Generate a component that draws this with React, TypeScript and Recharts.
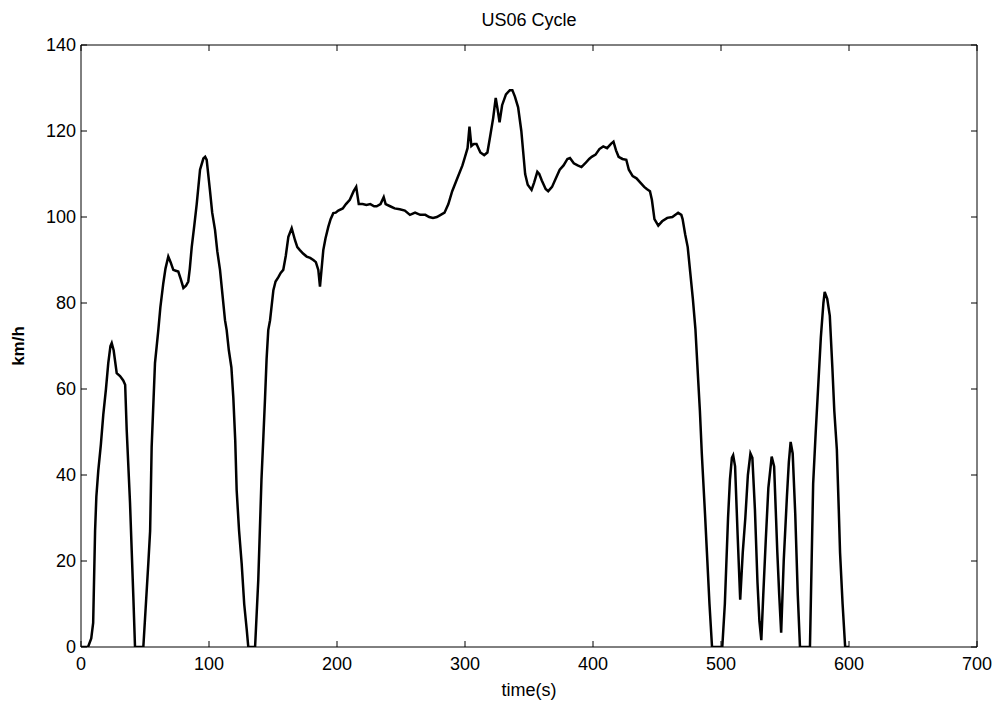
import { LineChart, Line, XAxis, YAxis, Label, ReferenceLine } from "recharts";

// US06 drive cycle
const TIME = [
  0, 5.5, 8, 9.5, 11, 12, 13.5, 15.5, 17.4, 19.5, 21.3, 23, 24, 25.5, 27.9, 30.5, 33, 34.5, 35.7, 38.3, 40.9,
  42.2, 48.7, 50.5, 52.6, 54, 55.2, 57.8, 60.4, 62, 64.3, 66, 68.2, 70, 72.1, 74, 76, 78, 80, 82, 83.8, 85,
  86.5, 88.5, 90.4, 93, 95.6, 97, 98.2, 100.8, 102.5, 104.7, 106.5, 108.6, 110.5, 112.5, 113.8, 115.5, 117.5,
  119, 120.5, 121.6, 123.5, 125.5, 127.5, 129.5, 130.7, 136, 138.5, 141, 142.5, 143.8, 145, 146.3, 147.7,
  150.3, 152, 154.2, 156, 158, 160, 162, 164.6, 167.2, 169, 171, 173.5, 176.3, 179, 181.5, 183.5, 185.4,
  186.7, 189.3, 191, 193.2, 195, 197.1, 199, 201, 204.5, 207, 210, 213, 215, 217, 220, 223, 226, 229, 231,
  234, 236.5, 238, 241.5, 245, 249, 253, 257, 261, 265, 269, 272, 275, 278, 281, 284, 287, 290, 294, 298,
  300, 302, 303.5, 305, 307, 309, 312, 315, 317.5, 319.5, 322, 324, 325.5, 327, 329, 332, 335, 337, 339,
  341.5, 344, 345.5, 347, 349, 352, 354, 356.5, 358, 360, 363, 365, 368, 371, 374, 377, 380, 382, 385, 388,
  391, 394, 397, 399, 402, 405, 408, 411, 414, 416, 418, 420, 423, 426, 428, 431, 434, 437, 440, 442, 444.5,
  446, 448, 451, 454, 458, 462, 466.5, 469, 470, 472, 474, 476, 478, 480, 482, 483.5, 485, 487.5, 489, 491,
  493, 501, 503, 505.5, 507, 508.5, 509.5, 511, 513, 515, 517, 519, 521, 523, 524.5, 526.5, 528.5, 530,
  531.5, 533, 535, 537, 539.6, 541.5, 543, 544, 545.5, 547, 549, 551.5, 553, 554.4, 556, 558, 560, 561.7,
  569.5, 572, 574, 576, 578, 580, 581, 583, 585, 587, 588.5, 590.5, 592, 593, 595, 597, 600,
];

const SPEED = [
  0, 0, 2, 5.6, 27, 35, 41, 47, 54, 60, 66, 70, 70.7, 69, 63.7, 63, 62, 61, 50.5, 33.5, 11.6,
  0, 0, 9, 19.5, 27, 46.5, 66, 73.7, 79, 84.6, 88, 90.8, 89.5, 87.7, 87.5, 87.3, 85.5, 83.5, 84, 85, 88,
  93, 98, 103, 111, 113.6, 114, 113.3, 106, 101, 97, 92, 87.7, 82, 76, 73.7, 69, 65, 58, 48, 36.5, 27,
  19.5, 10, 4, 0, 0, 15.6, 39, 49, 58, 67, 73.7, 76, 83, 85, 86, 87, 87.7, 91, 95.4, 97.4, 94.6, 93,
  92.3, 91.5, 90.8, 90.5, 90, 89.5, 87.7, 83.8, 92.3, 95, 97.7, 99.5, 100.9, 101, 101.5, 102, 103, 104,
  106, 107, 103, 103, 102.8, 103, 102.5, 102.5, 103, 104.6, 103, 102.5, 102, 101.8, 101.5, 100.5, 101,
  100.5, 100.5, 100, 99.8, 100, 100.5, 101, 103, 106, 109, 112, 114, 116, 121, 116.5, 117, 117, 115,
  114.4, 115, 118.5, 123, 127.7, 125, 122, 126, 128.5, 129.5, 129.5, 128, 125.5, 120, 115, 110, 107.5,
  106.3, 108, 110.5, 110, 108.5, 106.5, 106, 107, 109, 111, 112, 113.5, 113.7, 112.5, 112, 111.6, 112.5,
  113.5, 114, 114.5, 115.8, 116.4, 116, 117, 117.5, 115.5, 114, 113.5, 113.3, 111, 109.5, 109, 108, 107,
  106.5, 106, 104, 99.5, 98, 99, 99.8, 100, 101, 100.5, 99.5, 96, 93, 87, 81, 74, 63, 55, 45, 31, 22, 10,
  0, 0, 10, 30, 39, 44, 44.6, 42, 26, 11, 22, 30, 40, 45, 44, 32, 15, 6, 1.6, 12, 25, 37, 44.3, 42, 30, 22,
  12, 3.3, 20, 35, 43, 47.7, 45, 31, 12, 0, 0, 38, 50, 61, 72, 80, 82.6, 81, 77, 65, 55, 46, 32, 22, 10, 0,
  0,
];

const X_TICKS = [0, 100, 200, 300, 400, 500, 600, 700];
const Y_TICKS = [0, 20, 40, 60, 80, 100, 120, 140];

const data = TIME.map((t, i) => ({ time: t, speed: SPEED[i] }));

const FONT = '"Liberation Sans", Arial, Helvetica, sans-serif';
const W = 1005;
const H = 706;
const MARGIN = { top: 45, right: 28, bottom: 0, left: 0 };
const PLOT_TOP = MARGIN.top;
const PLOT_RIGHT = W - MARGIN.right;
const TICK = 6;

// matlab style: tick marks point into the plot, mirrored on the opposite side
const XTick = ({ x, y, payload }: any) => (
  <g>
    <line x1={x} x2={x} y1={y} y2={y - TICK} stroke="#000" />
    <line x1={x} x2={x} y1={PLOT_TOP} y2={PLOT_TOP + TICK} stroke="#000" />
    <text x={x} y={y + 23} textAnchor="middle" fontFamily={FONT} fontSize={18} fill="#000">
      {payload.value}
    </text>
  </g>
);

const YTick = ({ x, y, payload }: any) => (
  <g>
    <line x1={x} x2={x + TICK} y1={y} y2={y} stroke="#000" />
    <line x1={PLOT_RIGHT - TICK} x2={PLOT_RIGHT} y1={y} y2={y} stroke="#000" />
    <text x={x - 5} y={y} textAnchor="end" dominantBaseline="central" fontFamily={FONT} fontSize={18} fill="#000">
      {payload.value}
    </text>
  </g>
);

export default function App() {
  return (
    <div style={{ position: "absolute", left: 0, top: 0, width: W, height: H, background: "#fff" }}>
      <div
        style={{
          position: "absolute",
          left: 81,
          width: PLOT_RIGHT - 81,
          top: 9,
          textAlign: "center",
          fontFamily: FONT,
          fontSize: 18,
          lineHeight: "22px",
          color: "#000",
        }}
      >
        US06 Cycle
      </div>
      <LineChart width={W} height={H} data={data} margin={MARGIN}>
        <XAxis
          xAxisId="b"
          dataKey="time"
          type="number"
          domain={[0, 700]}
          ticks={X_TICKS}
          height={59}
          stroke="#000"
          tickLine={false}
          tickSize={0}
          tickMargin={0}
          tick={<XTick />}
          allowDataOverflow
        >
          <Label value="time(s)" position="insideBottom" offset={10} fill="#000" fontSize={18} fontFamily={FONT} />
        </XAxis>
        <YAxis
          yAxisId="l"
          type="number"
          domain={[0, 140]}
          ticks={Y_TICKS}
          width={81}
          stroke="#000"
          tickLine={false}
          tickSize={0}
          tickMargin={0}
          tick={<YTick />}
          allowDataOverflow
        >
          <Label
            content={({ viewBox }: any) => {
              const x = viewBox.x + 18;
              const y = viewBox.y + viewBox.height / 2;
              return (
                <text
                  x={x}
                  y={y}
                  transform={`rotate(-90 ${x} ${y})`}
                  textAnchor="middle"
                  dominantBaseline="central"
                  fontFamily={FONT}
                  fontSize={17}
                  fontWeight="bold"
                  fill="#000"
                >
                  km/h
                </text>
              );
            }}
          />
        </YAxis>
        <ReferenceLine xAxisId="b" yAxisId="l" y={140} stroke="#000" />
        <ReferenceLine xAxisId="b" yAxisId="l" x={700} stroke="#000" />
        <Line
          xAxisId="b"
          yAxisId="l"
          type="linear"
          dataKey="speed"
          stroke="#000"
          strokeWidth={2.5}
          dot={false}
          isAnimationActive={false}
        />
      </LineChart>
    </div>
  );
}
